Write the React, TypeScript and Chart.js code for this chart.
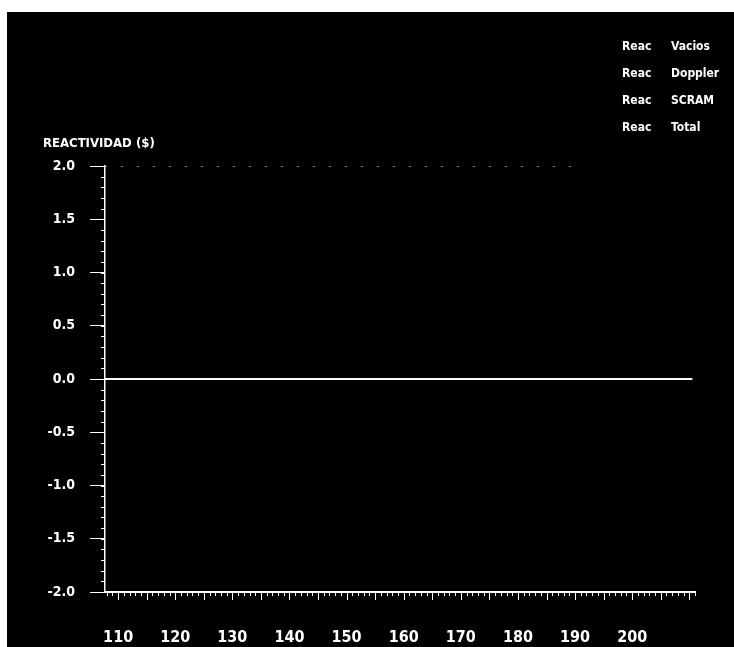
import React, { useEffect, useRef } from 'react';
import Chart from 'chart.js/auto';

// ---- data ----
const seriesLabels = ['Reac  Vacios', 'Reac  Doppler', 'Reac  SCRAM', 'Reac  Total'];
const timeLine = [107.7, 210.5];
const reacVacios = [0, 0];
const reacDoppler = [0, 0];
const scramTime = [107.7, 191];
const reacScram = [2.0, 2.0];
const reacTotal = [0, 0];
const xTickValues = [110, 120, 130, 140, 150, 160, 170, 180, 190, 200];
const yTickValues = [2.0, 1.5, 1.0, 0.5, 0.0, -0.5, -1.0, -1.5, -2.0];
const xRange = [107.7, 211];
const yRange = [-2.0, 2.0];
const yAxisTitle = 'REACTIVIDAD ($)';

const FONT = "'Liberation Sans Narrow', 'DejaVu Sans Condensed', 'Arial Narrow', sans-serif";

const toPoints = (xs: number[], ys: number[]) => xs.map((x, i) => ({ x, y: ys[i] }));

const bgPlugin = {
  id: 'bg',
  beforeDraw(chart: any) {
    const { ctx, width, height } = chart;
    ctx.save();
    ctx.fillStyle = '#ffffff';
    ctx.fillRect(0, 0, width, height);
    ctx.fillStyle = '#000000';
    ctx.fillRect(7, 12, width - 7, height - 12);
    ctx.restore();
  },
};

const decorPlugin = {
  id: 'decor',
  afterDraw(chart: any) {
    const { ctx, chartArea } = chart;
    const xs = chart.scales.x;
    const ys = chart.scales.y;
    ctx.save();
    ctx.strokeStyle = '#ffffff';
    ctx.lineWidth = 1;
    // minor ticks on x axis
    for (let v = Math.ceil(xRange[0]); v <= Math.floor(xRange[1]); v++) {
      const px = Math.round(xs.getPixelForValue(v)) + 0.5;
      const len = v % 5 === 0 ? 8 : 4;
      ctx.beginPath();
      ctx.moveTo(px, chartArea.bottom);
      ctx.lineTo(px, chartArea.bottom + len);
      ctx.stroke();
    }
    // minor ticks on y axis
    for (let i = -20; i <= 20; i++) {
      const py = Math.round(ys.getPixelForValue(i / 10)) + 0.5;
      ctx.beginPath();
      ctx.moveTo(chartArea.left - 4, py);
      ctx.lineTo(chartArea.left, py);
      ctx.stroke();
    }
    // y axis title
    ctx.fillStyle = '#ffffff';
    ctx.font = `bold 13px ${FONT}`;
    ctx.textBaseline = 'middle';
    ctx.textAlign = 'left';
    ctx.fillText(yAxisTitle, 43, 144);
    // legend (labels from datasets)
    ctx.font = `bold 12px ${FONT}`;
    chart.data.datasets.forEach((ds: any, i: number) => {
      const parts = String(ds.label).split(/\s+/);
      const y = 47 + i * 27;
      ctx.fillText(parts[0], 622, y);
      ctx.fillText(parts.slice(1).join(' '), 671, y);
    });
    ctx.restore();
  },
};

export default function App() {
  const ref = useRef<HTMLCanvasElement | null>(null);
  useEffect(() => {
    if (!ref.current) return;
    const chart = new Chart(ref.current, {
      type: 'line',
      data: {
        datasets: [
          {
            label: seriesLabels[0],
            data: toPoints(timeLine, reacVacios),
            borderColor: '#ffffff',
            borderWidth: 2,
            pointRadius: 0,
          },
          {
            label: seriesLabels[1],
            data: toPoints(timeLine, reacDoppler),
            borderColor: '#ffffff',
            borderWidth: 2,
            pointRadius: 0,
          },
          {
            label: seriesLabels[2],
            data: toPoints(scramTime, reacScram),
            borderColor: '#bbbbbb',
            borderWidth: 1.5,
            borderDash: [2, 14],
            pointRadius: 0,
          },
          {
            label: seriesLabels[3],
            data: toPoints(timeLine, reacTotal),
            borderColor: '#ffffff',
            borderWidth: 2,
            pointRadius: 0,
          },
        ],
      },
      options: {
        responsive: false,
        animation: false,
        layout: { padding: { top: 166, right: 39, bottom: 0, left: 0 } },
        plugins: {
          legend: { display: false },
          title: { display: false },
          tooltip: { enabled: false },
        },
        scales: {
          x: {
            type: 'linear',
            min: xRange[0],
            max: xRange[1],
            afterBuildTicks: (scale: any) => {
              scale.ticks = xTickValues.map((v) => ({ value: v }));
            },
            afterFit: (scale: any) => {
              scale.height = 55;
            },
            grid: { display: true, drawOnChartArea: false, drawTicks: false, color: '#ffffff' },
            border: { display: true, color: '#ffffff', width: 2 },
            ticks: {
              color: '#ffffff',
              padding: 36,
              font: { family: FONT, size: 16, weight: 'bold' },
              callback: (v: any) => String(v),
            },
          },
          y: {
            type: 'linear',
            min: yRange[0],
            max: yRange[1],
            afterBuildTicks: (scale: any) => {
              scale.ticks = yTickValues.map((v) => ({ value: v }));
            },
            afterFit: (scale: any) => {
              scale.width = 105;
            },
            grid: {
              display: true,
              drawOnChartArea: false,
              drawTicks: true,
              tickLength: 15,
              tickColor: '#ffffff',
              color: '#ffffff',
            },
            border: { display: true, color: '#ffffff', width: 1.5, dash: [2, 4] },
            ticks: {
              color: '#ffffff',
              padding: 15,
              font: { family: FONT, size: 14, weight: 'bold' },
              callback: (v: any) => Number(v).toFixed(1),
            },
          },
        },
      },
      plugins: [bgPlugin, decorPlugin],
    } as any);
    return () => chart.destroy();
  }, []);
  return (
    <div style={{ position: 'fixed', left: 0, top: 0, width: 734, height: 647 }}>
      <canvas ref={ref} width={734} height={647} style={{ display: 'block' }} />
    </div>
  );
}
